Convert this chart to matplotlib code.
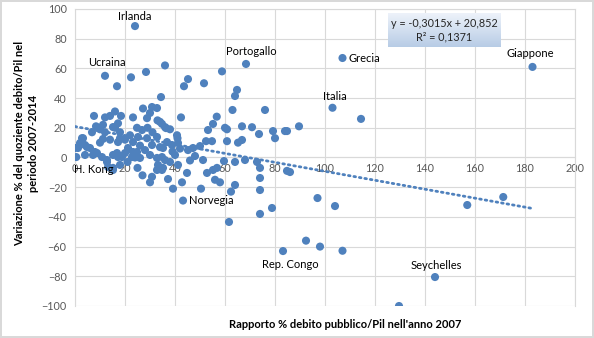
import numpy as np
import matplotlib
matplotlib.use('Agg')
import matplotlib.pyplot as plt

plt.rcParams['font.family'] = ['Lato', 'DejaVu Sans']

# debito/Pil 2007 (x) e variazione % 2007-2014 (y)
debt_2007 = [
    24, 107, 183, 68.4, 103, 12, 43.2, 83.2, 144, 7.2,
    22.4, 28.4, 36, 16.8, 34.4, 43.6, 45.2, 51.6, 58.8, 64.8, 64,
    63, 76, 56.7, 114.4,
    7.6, 12, 14, 16, 18.4, 23.2, 27.2, 30.8, 32.8, 30, 28.8, 42.4,
    34, 36, 34.8, 38, 40.8,
    55.2, 53.2, 60, 60.8, 66.8, 70.8, 73.6, 79.2, 80, 84, 84.8, 89.6,
    52.4, 54.8, 60.8, 65.2, 66.8, 41.2, 36.8, 38.8, 35.2, 40, 45.2, 47.2, 50,
    51.2, 59.6, 64, 68, 72.8, 74, 84.8, 86,
    52.8, 55.2, 56.8, 56, 58, 64, 62.4, 74, 74, 50.4,
    78.8, 74, 61.6, 97, 104, 156.9, 171.3,
    92.4, 98, 107, 129.6,
    34.8, 37.2, 39.2, 42.8, 44.8, 41.2, 35.2, 36, 32.8,
    8.4, 10, 6.8, 11.2, 15.2, 17.2, 18, 0, 3.2, 4.8, 2, 8.8, 0.5, 12.8, 13.2, 17.2, 15.2,
    11.2, 9.2, 16, 17.2, 12, 2.8, 4, 1.2, 6, 4, 8, 10.8, 15.2, 18.8, 18,
    21.2, 23.2, 25.2, 26.8, 24.8, 28.8, 30.8, 28, 32.8, 34, 30, 34.8, 26, 23.2, 33.2,
    30.8, 32.8, 30, 15.2, 12.8, 22.8, 16.8, 24.8, 18, 33, 36.4, 41,
    20, 22, 26, 20, 14, 10, 24, 29, 31, 39, 42, 46, 48, 38, 27, 25, 21,
]
change_07_14 = [
    88.5, 67, 61, 63, 33.5, 55, -29, -63, -80.5, 1.7,
    54, 57.6, 62, 48, 40.7, 48, 52.8, 50, 58, 45.5, 41.4,
    32, 32, 27.5, 26,
    28, 27, 28, 31, 28, 27, 33, 34, 33.3, 30, 26.5, 27,
    24, 20.5, 22.6, 19, 15,
    22.6, 18.5, 20, 19, 21, 20.4, 15.8, 17.8, 13, 17.8, 17.8, 21,
    11, 11, 11, 10, 11.8, 9.8, 10.4, 8.4, 6.4, 1.7, 5, 6.4, 7.7,
    -1.7, -2.4, -3, -1.7, -3, -7, -9, -9.8,
    -10.4, -8.4, -7, -15, -16.7, -18.5, -23, -13.8, -21.9, -21,
    -34, -38, -43.4, -27.3, -32.7, -32, -26.6,
    -56, -60, -62.8, -100,
    -8.4, -14.5, -21, -16.7, -10.4, -5, -7, -1.7, -0.3,
    21, 19, 17, 12.5, 20.5, 23, 17, 6.4, 13, 7, 9.7, 3, 0.3, -3, -6.4, 0.3, -7,
    22, 20, 20, 10.4, 17, 13, 8.4, 6.4, 6.4, 1.7, 3.7, 0.3, 1.7, 0.3, -5,
    6.4, 10.4, 13.8, 18.5, 20, 13, 8.4, 5, 13.8, 7, 1.7, 0.3, -0.3, 3.7, -5,
    -13, -8.4, -16.7, -8.4, -1.7, 0.3, 3, 3.7, 13, 25, 19.8, 13,
    12, 15, 8, 3, 12, 10, 0, 20, 17, 4, 6, -2, 1, -3, -12, -7, -3,
]

# paesi etichettati: (nome, x, y, offset pixel, allineamento)
labels = ['Irlanda', 'Grecia', 'Giappone', 'Portogallo', 'Italia', 'Ucraina',
          'Norvegia', 'Rep. Congo', 'Seychelles', 'H. Kong']
label_offsets = [(0, 10), (6, 0), (-2, 13), (5, 12), (2, 11), (2, 13),
                 (6, 0), (7, -13), (1, 12), (1, -15)]
label_ha = ['center', 'left', 'center', 'center', 'center', 'center',
            'left', 'center', 'center', 'center']

# linea di tendenza (da Excel)
slope = -0.3015
intercept = 20.852

blue = '#4F81BD'
grid_c = '#D9D9D9'
tick_c = '#595959'

fig = plt.figure(figsize=(5.94, 3.38), dpi=100)
fig.patch.set_edgecolor(grid_c)
fig.patch.set_linewidth(1.5)
ax = fig.add_axes([75 / 594, 32 / 338, 500 / 594, 297 / 338])

ax.scatter(debt_2007, change_07_14, s=34, color=blue, edgecolors='none', zorder=3)

xs = np.array([0, max(debt_2007)])
ax.plot(xs, slope * xs + intercept, color=blue, lw=2, linestyle=(0, (0.6, 1.4)),
        dash_capstyle='round', zorder=4)

for i, name in enumerate(labels):
    ax.annotate(name, (debt_2007[i], change_07_14[i]), xytext=label_offsets[i],
                textcoords='offset pixels', ha=label_ha[i], va='center',
                fontsize=8, color='black', zorder=5)

ax.set_xlim(0, 200)
ax.set_ylim(-100, 100)
ax.set_xticks(np.arange(0, 201, 20))
ax.set_yticks(np.arange(-100, 101, 20))
ax.grid(True, color=grid_c, lw=0.8)
ax.set_axisbelow(True)
for s in ['top', 'right', 'left']:
    ax.spines[s].set_color(grid_c)
ax.spines['bottom'].set_position(('data', 0))
ax.spines['bottom'].set_color(grid_c)
ax.tick_params(length=0, labelsize=7.8, labelcolor=tick_c)
ax.tick_params(axis='x', pad=4)
ax.tick_params(axis='y', pad=6)

ax.set_xlabel("Rapporto % debito pubblico/Pil nell'anno 2007", fontsize=8,
              fontweight='bold')
ax.xaxis.set_label_coords(0.54, -0.045)
fig.text(0.045, 0.577, 'Variazione % del quoziente debito/Pil nel\nperiodo 2007-2014',
         rotation=90, ha='center', va='center', fontsize=8, fontweight='bold',
         linespacing=1.3)

# riquadro equazione con sfumatura
box = fig.add_axes([388 / 594, 1 - 47 / 338, 112 / 594, 34 / 338])
grad = np.linspace(0, 1, 50).reshape(-1, 1)
top_c = np.array([0.93, 0.95, 0.98])
bot_c = np.array([0.72, 0.80, 0.90])
img = top_c + grad[:, :, None] * (bot_c - top_c)
box.imshow(img, aspect='auto', extent=[0, 1, 0, 1])
box.set_axis_off()
box.text(0.5, 0.7, 'y = -0,3015x + 20,852', ha='center', va='center', fontsize=7.8,
         color='#262626')
box.text(0.5, 0.3, 'R² = 0,1371', ha='center', va='center', fontsize=7.8,
         color='#262626')

fig.savefig('out.png', dpi=100, edgecolor=fig.get_edgecolor())
